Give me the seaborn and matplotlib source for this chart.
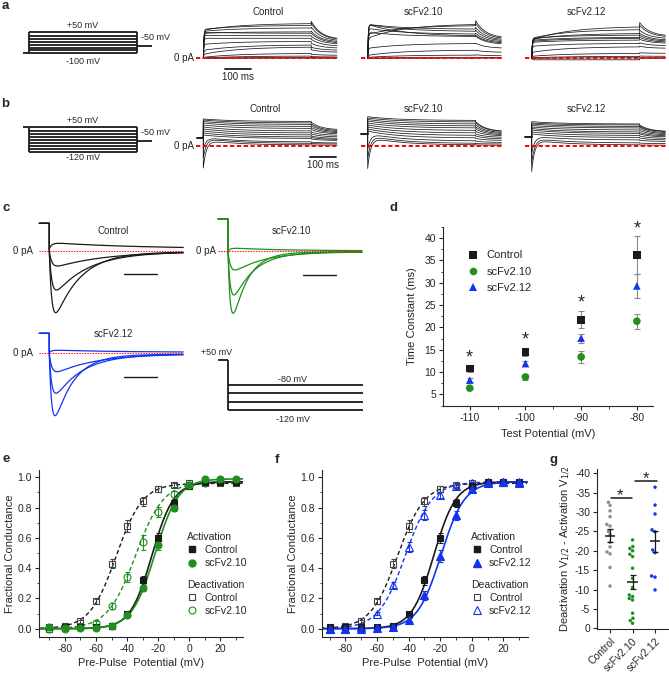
import numpy as np
import pandas as pd
import matplotlib
matplotlib.use("Agg")
import matplotlib.pyplot as plt
from matplotlib.lines import Line2D
from matplotlib.ticker import MultipleLocator
import seaborn as sns

# ==============================================================================
# DATA
# ==============================================================================
GROUPS = ["Control", "scFv2.10", "scFv2.12"]

# --- a: activation families, current above 0 pA (trace units) -----------------
A_CTRL_EARLY = [28, 29, 27, 25, 26, 23, 20, 14, 8, 4, 1, 0.3, 0, 0]
A_CTRL_END = [35, 33, 30.5, 26.5, 25, 22.5, 20, 17, 13.5, 11.5, 5, 2.3, 0.8, 0.2]
A_CTRL_TAIL = [37, 35, 31, 27, 25, 22, 19, 15, 11, 8.5, 4, 1.7, 0.6, 0.2]
A_CTRL_TAIL_END = [18.5, 18, 17, 16, 15, 14, 12, 10, 8, 6, 3, 1.3, 0.5, 0.2]

A_S10_EARLY = [20, 24, 34, 34, 34, 30, 26, 10, 3, 1, 0, 0]
A_S10_END = [34.5, 33, 29, 26.7, 22, 24, 21.7, 15, 8.3, 3.3, 1, 0.2]
A_S10_TAIL = [37.7, 35, 31, 28, 23, 25, 22, 15, 8, 3.5, 1, 0.2]
A_S10_TAIL_END = [20, 19, 18, 17, 15, 16, 14, 10, 6, 2.5, 0.8, 0.2]

A_S12_EARLY = [18, 20, 19, 20, 18, 17, 16, 12, 6, 2, 0.5, 0, -1.5]
A_S12_END = [32, 29, 25, 23.3, 21, 20, 18.3, 15, 11.7, 5, 2, 0.5, -1.5]
A_S12_TAIL = [35.7, 33, 28, 25, 23, 21, 19, 15.5, 12, 5.5, 2.2, 0.5, 0]
A_S12_TAIL_END = [22, 21, 19.5, 18, 17, 16, 15, 12.5, 10, 5, 2, 0.5, 0]

# --- b: families from +50 mV prepulse ----------------------------------------
B_CTRL_HOLD = 8.3
B_CTRL_START = [27, 26, 24.5, 23, 21, 19, 17, 15, 13, 11, 9, 8, 6]
B_CTRL_END = [24.5, 23, 21.5, 19.5, 17.5, 15, 13, 11, 9, 7.5, 4, 2.5, 1]
B_CTRL_DIP = [0, 0, 0, 0, 0, 0, 0, 0, 0, 0, -12, -20, -28]
B_CTRL_TAIL = [23.7, 22, 20.5, 18.5, 16.5, 14, 12, 10, 8.5, 7, 3.8, 2.4, 1]
B_CTRL_TAIL_END = [16, 15, 14, 13, 12, 10.5, 9, 7.5, 6.5, 5.5, 3, 2, 0.8]

B_S10_HOLD = 12
B_S10_START = [29.3, 28, 26.5, 25, 23, 21, 19, 17, 15, 13, 11, 9]
B_S10_END = [25.5, 24, 22, 20, 18, 15.5, 13, 10.5, 8, 5, 2.5, 1]
B_S10_DIP = [0, 0, 0, 0, 0, 0, 0, 0, 0, -16, -24, -31.5]
B_S10_TAIL = [24.3, 23, 21, 19, 17, 14.5, 12, 10, 7.5, 4.8, 2.4, 1]
B_S10_TAIL_END = [14.3, 14, 13, 12, 11, 10, 8.5, 7, 5.5, 3.5, 2, 0.8]

B_S12_HOLD = 8.7
B_S12_START = [24.3, 23, 22, 20.5, 19, 17.5, 16, 14, 12, 10, 8, 6.5]
B_S12_END = [22, 21, 19.5, 18, 16, 14, 12.5, 10.5, 8.5, 6, 3, 1]
B_S12_DIP = [0, 0, 0, 0, 0, 0, 0, 0, 0, -17, -25, -32]
B_S12_TAIL = [21, 20, 19, 17.5, 15.5, 13.5, 12, 10, 8, 5.8, 2.9, 1]
B_S12_TAIL_END = [14.3, 14, 13, 12, 11, 10, 9, 7.5, 6, 4.5, 2.4, 0.8]

# --- voltage protocols (mV) --------------------------------------------------
PROTO_A_LEVELS = [-100, -80, -60, -40, -20, 0, 20, 50]
PROTO_B_LEVELS = [-120, -100, -80, -60, -40, -20, 0, 20, 50]
PROTO_C_LEVELS = [-80, -93.3, -106.7, -120]
PROTO_C_PREPULSE_DRAWN = -40   # +50 mV prepulse, drawn compressed in the schematic

# --- c: deactivating tail currents -------------------------------------------
C_CTRL_HOLD = 27.4
C_CTRL_PEAK = [7.4, -15.3, -39.3, -62.0]
C_CTRL_SS = [2.0, -0.8, -1.0, -1.2]
C_S10_HOLD = 32.3
C_S10_PEAK = [3.0, -18.7, -43.7, -62.0]
C_S10_SS = [0.5, -0.5, -0.6, -0.7]
C_S12_HOLD = 20.0
C_S12_PEAK = [3.0, -18.4, -40.0, -62.4]
C_S12_SS = [1.0, -0.5, -0.8, -1.0]

# --- d: deactivation time constants -----------------------------------------
D_POT = [-110, -100, -90, -80]
D_CTRL = [10.8, 14.5, 21.7, 36.2]
D_CTRL_ERR = [0.7, 1.0, 1.9, 4.2]
D_S10 = [6.4, 8.9, 13.4, 21.4]
D_S10_ERR = [0.3, 0.6, 1.4, 1.7]
D_S12 = [8.2, 11.9, 17.6, 29.3]
D_S12_ERR = [0.4, 0.5, 1.0, 2.6]
D_STAR_Y = [14.5, 18.5, 26.8, 43.4]

# --- e / f: conductance-voltage ------------------------------------------------
GV_POT = [-90, -80, -70, -60, -50, -40, -30, -20, -10, 0, 10, 20, 30]
CTRL_ACT = [0.01, 0.01, 0.01, 0.01, 0.02, 0.10, 0.32, 0.60, 0.83, 0.94, 0.97, 0.97, 0.97]
CTRL_ACT_ERR = [0.005, 0.005, 0.005, 0.005, 0.005, 0.01, 0.03, 0.035, 0.025, 0.015, 0.01, 0.01, 0.01]
CTRL_DEACT = [0.0, 0.02, 0.05, 0.18, 0.43, 0.68, 0.84, 0.92, 0.95, 0.96, 0.96, 0.96, 0.96]
CTRL_DEACT_ERR = [0.005, 0.005, 0.01, 0.015, 0.03, 0.04, 0.03, 0.02, 0.015, 0.01, 0.01, 0.01, 0.01]
S10_ACT = [0.01, 0.005, 0.005, 0.005, 0.02, 0.09, 0.27, 0.55, 0.80, 0.95, 0.99, 0.99, 0.99]
S10_ACT_ERR = [0.005, 0.005, 0.005, 0.005, 0.005, 0.01, 0.02, 0.03, 0.02, 0.01, 0.01, 0.01, 0.01]
S10_DEACT = [0.0, 0.0, 0.01, 0.04, 0.15, 0.34, 0.57, 0.77, 0.89, 0.95, 0.96, 0.97, 0.97]
S10_DEACT_ERR = [0.005, 0.005, 0.005, 0.01, 0.02, 0.035, 0.05, 0.035, 0.02, 0.01, 0.01, 0.01, 0.01]
S12_ACT = [0.0, 0.0, 0.0, 0.005, 0.01, 0.06, 0.22, 0.48, 0.75, 0.92, 0.96, 0.97, 0.97]
S12_ACT_ERR = [0.005, 0.005, 0.005, 0.005, 0.005, 0.01, 0.03, 0.04, 0.03, 0.015, 0.01, 0.01, 0.01]
S12_DEACT = [0.0, 0.0, 0.01, 0.10, 0.29, 0.54, 0.75, 0.88, 0.94, 0.96, 0.97, 0.97, 0.96]
S12_DEACT_ERR = [0.005, 0.005, 0.005, 0.01, 0.02, 0.035, 0.035, 0.02, 0.015, 0.01, 0.01, 0.01, 0.01]

# Boltzmann fit parameters (V1/2, slope, max)
FIT_CTRL_ACT = (-24.0, 7.0, 0.97)
FIT_CTRL_DEACT = (-47.0, 8.5, 0.96)
FIT_S10_ACT = (-22.0, 7.5, 0.99)
FIT_S10_DEACT = (-34.5, 9.0, 0.97)
FIT_S12_ACT = (-19.5, 7.5, 0.97)
FIT_S12_DEACT = (-42.0, 8.5, 0.97)

# --- g: deactivation V1/2 - activation V1/2 per cell ---------------------------
G_CTRL = [-32.5, -31.7, -30.3, -28.8, -26.8, -26.4, -25.0, -24.2, -22.2, -21.0,
          -19.7, -19.2, -15.7, -10.9]
G_S10 = [-22.8, -21.1, -20.6, -20.0, -19.1, -18.5, -15.5, -12.9, -10.5, -8.6,
         -8.2, -7.7, -7.3, -3.9, -2.6, -2.0, -1.3]
G_S12 = [-36.4, -31.8, -29.5, -25.4, -24.9, -20.2, -19.5, -13.5, -13.2, -9.9]

# ==============================================================================
# STYLE / LAYOUT HELPERS
# ==============================================================================
GREEN = "#1f8f1f"
BLUE = "#1234f0"
GREY = "#8e8e8e"
RED = "#ff0000"
PALETTE = {"Control": "k", "scFv2.10": GREEN, "scFv2.12": BLUE}

sns.set_theme(style="ticks", rc={
    "axes.linewidth": 0.8,
    "xtick.major.width": 0.8, "ytick.major.width": 0.8,
    "xtick.minor.width": 0.6, "ytick.minor.width": 0.6,
    "xtick.major.size": 3, "ytick.major.size": 3,
    "xtick.minor.size": 1.8, "ytick.minor.size": 1.8,
    "xtick.major.pad": 2, "ytick.major.pad": 2,
})
plt.rcParams["font.family"] = ["Liberation Sans", "DejaVu Sans"]
plt.rcParams["axes.unicode_minus"] = False

W, H = 669, 676
fig = plt.figure(figsize=(W / 100, H / 100), dpi=100)


def px_axes(x0, y0, x1, y1):
    return fig.add_axes([x0 / W, 1 - y1 / H, (x1 - x0) / W, (y1 - y0) / H])


def ftext(x, y, s, **kw):
    kw.setdefault("ha", "center")
    kw.setdefault("va", "center")
    fig.text(x / W, 1 - y / H, s, **kw)


def fit_to_px(ax, box, ox, oy, sx, sy):
    """data = (px - origin) * scale, y positive upwards"""
    x0, y0, x1, y1 = box
    ax.set_xlim((x0 - ox) * sx, (x1 - ox) * sx)
    ax.set_ylim((oy - y1) * sy, (oy - y0) * sy)
    ax.axis("off")


def star(ax, x, y, fs=13):
    ax.annotate("*", (x, y), xytext=(0, -0.58 * fs), textcoords="offset points",
                ha="center", va="baseline", fontsize=fs, annotation_clip=False)


def boltz(v, v_half, k, amp):
    return amp / (1 + np.exp((v_half - v) / k))


# ==============================================================================
# a / b : CURRENT FAMILIES
# ==============================================================================
MS_PER_PX = 100 / 25.7
STEP_MS, TAIL_MS = 420, 100
T_STEP = np.linspace(0, STEP_MS, 400)
T_TAIL = np.linspace(STEP_MS, STEP_MS + TAIL_MS, 100)
TRACE_KW = dict(color="k", lw=0.55)
RED_DASH = dict(color=RED, lw=1.4, ls=(0, (2.2, 1.3)), zorder=5)


def tail_part(tail, tail_end):
    return tail_end + (tail - tail_end) * np.exp(-(T_TAIL - STEP_MS) / 40.0)


def draw_family_a(ax, early, end, tail, tail_end):
    for e0, e1, tp, te in zip(early, end, tail, tail_end):
        i_step = (1 - np.exp(-T_STEP / 2.0)) * (e1 + (e0 - e1) * np.exp(-T_STEP / 140.0))
        ax.plot(np.r_[T_STEP, T_TAIL], np.r_[i_step, tail_part(tp, te)], **TRACE_KW)
    ax.plot([-28, 522], [0, 0], **RED_DASH)


def draw_family_b(ax, hold, start, end, dip, tail, tail_end):
    ax.plot([-25, 0], [hold, hold], color="k", lw=1.4)
    for s0, e1, dp, tp, te in zip(start, end, dip, tail, tail_end):
        i_step = e1 + (s0 - e1) * np.exp(-T_STEP / 120.0) + dp * np.exp(-T_STEP / 12.0)
        ax.plot(np.r_[0, T_STEP, T_TAIL], np.r_[hold, i_step, tail_part(tp, te)], **TRACE_KW)
    ax.plot([-28, 522], [0, 0], **RED_DASH)


ORIGINS_X = [203.3, 367.7, 531.7]
A_SETS = [(A_CTRL_EARLY, A_CTRL_END, A_CTRL_TAIL, A_CTRL_TAIL_END),
          (A_S10_EARLY, A_S10_END, A_S10_TAIL, A_S10_TAIL_END),
          (A_S12_EARLY, A_S12_END, A_S12_TAIL, A_S12_TAIL_END)]
B_SETS = [(B_CTRL_HOLD, B_CTRL_START, B_CTRL_END, B_CTRL_DIP, B_CTRL_TAIL, B_CTRL_TAIL_END),
          (B_S10_HOLD, B_S10_START, B_S10_END, B_S10_DIP, B_S10_TAIL, B_S10_TAIL_END),
          (B_S12_HOLD, B_S12_START, B_S12_END, B_S12_DIP, B_S12_TAIL, B_S12_TAIL_END)]
TITLE_X = [268, 423.3, 586.7]

a_axes, b_axes = [], []
for ox, aset, bset, tx, name in zip(ORIGINS_X, A_SETS, B_SETS, TITLE_X, GROUPS):
    ax = px_axes(ox - 14, 15, ox + 137, 75)
    fit_to_px(ax, (ox - 14, 15, ox + 137, 75), ox, 58.3, MS_PER_PX, 1)
    draw_family_a(ax, *aset)
    a_axes.append(ax)
    ftext(tx, 11.7, name, fontsize=7)

    ax = px_axes(ox - 14, 100, ox + 137, 178)
    fit_to_px(ax, (ox - 14, 100, ox + 137, 178), ox, 146, MS_PER_PX, 1)
    draw_family_b(ax, *bset)
    b_axes.append(ax)
    ftext(tx - 3 if name == "Control" else tx, 109, name, fontsize=7)

# scale bars (100 ms)
a_axes[0].plot([84, 184], [-11, -11], color="k", lw=1.3)
b_axes[0].plot([415, 515], [-10.7, -10.7], color="k", lw=1.3)
ftext(237.5, 77.5, "100 ms", fontsize=7)
ftext(323, 165.5, "100 ms", fontsize=7)
ftext(193.5, 58, "0 pA", fontsize=7, ha="right")
ftext(193.5, 146, "0 pA", fontsize=7, ha="right")


# voltage protocols a / b
def draw_protocol(ax, levels, hold_left, hold_right, lead_ms=24, tail_ms=60):
    kw = dict(color="k", lw=1.3, solid_capstyle="butt")
    ax.plot([-lead_ms, 0], [hold_left, hold_left], **kw)
    ax.plot([0, 0], [min(levels), max(levels)], **kw)
    for v in levels:
        ax.plot([0, STEP_MS], [v, v], **kw)
    ax.plot([STEP_MS, STEP_MS], [min(levels), max(levels)], **kw)
    ax.plot([STEP_MS, STEP_MS + tail_ms], [hold_right, hold_right], **kw)


ax = px_axes(15, 22, 165, 60)
fit_to_px(ax, (15, 22, 165, 60), 29, 38.9, MS_PER_PX, 6.94)
draw_protocol(ax, PROTO_A_LEVELS, -100, -50)
ftext(83, 25, "+50 mV", fontsize=6.5)
ftext(141, 37.7, "-50 mV", fontsize=6.5, ha="left")
ftext(83, 61.5, "-100 mV", fontsize=6.5)

ax = px_axes(15, 118, 165, 158)
fit_to_px(ax, (15, 118, 165, 158), 29, 134.05, MS_PER_PX, 6.8)
draw_protocol(ax, PROTO_B_LEVELS, 50, -50)
ftext(83, 120.7, "+50 mV", fontsize=6.5)
ftext(141, 132.3, "-50 mV", fontsize=6.5, ha="left")
ftext(83, 157.8, "-120 mV", fontsize=6.5)

# ==============================================================================
# c : TAIL CURRENTS
# ==============================================================================
C_MS_PER_PX = 0.43
C_T = np.linspace(0, 57.6, 400)
RED_DOT = dict(color=RED, lw=0.8, ls=(0, (1.2, 1.2)), zorder=5)


def draw_tails(ax, hold, peaks, ss, taus, color):
    for pk, s, tau in zip(peaks, ss, taus):
        g = np.exp(-C_T / tau) * (1 - np.exp(-C_T / 1.2))
        g = g / g.max()
        ax.plot(np.r_[-4.3, 0, C_T], np.r_[hold, hold, s + (pk - s) * g], color=color, lw=0.9)
    ax.plot([-4.4, 57.6], [0, 0], **RED_DOT)
    ax.plot([32.3, 46.3], [-23.6, -23.6], color="k", lw=1.0)


C_SETS = [((30, 212, 190, 320), 49.3, 250.7, C_CTRL_HOLD, C_CTRL_PEAK, C_CTRL_SS, D_CTRL[::-1], "k"),
          ((210, 212, 368, 320), 228, 251.3, C_S10_HOLD, C_S10_PEAK, C_S10_SS, D_S10[::-1], GREEN),
          ((30, 318, 190, 422), 49.3, 353.3, C_S12_HOLD, C_S12_PEAK, C_S12_SS, D_S12[::-1], BLUE)]
for box, ox, oy, hold, peaks, ss, taus, col in C_SETS:
    ax = px_axes(*box)
    fit_to_px(ax, box, ox, oy, C_MS_PER_PX, 1)
    draw_tails(ax, hold, peaks, ss, taus, col)

ftext(113, 231, "Control", fontsize=7)
ftext(291.7, 231.5, "scFv2.10", fontsize=7)
ftext(113, 334, "scFv2.12", fontsize=7)
ftext(33, 250.7, "0 pA", fontsize=7, ha="right")
ftext(216, 251.3, "0 pA", fontsize=7, ha="right")
ftext(33, 353.3, "0 pA", fontsize=7, ha="right")

# c protocol
box = (210, 352, 368, 414)
ax = px_axes(*box)
fit_to_px(ax, box, 228, 335, C_MS_PER_PX, 1.6)
pkw = dict(color="k", lw=1.3, solid_capstyle="butt")
ax.plot([-4.3, 0], [PROTO_C_PREPULSE_DRAWN] * 2, **pkw)
ax.plot([0, 0], [PROTO_C_PREPULSE_DRAWN, min(PROTO_C_LEVELS)], **pkw)
for v in PROTO_C_LEVELS:
    ax.plot([0, 57.9], [v, v], **pkw)
ftext(217, 353, "+50 mV", fontsize=6.5)
ftext(293, 379, "-80 mV", fontsize=6.5)
ftext(293, 419.5, "-120 mV", fontsize=6.5)

# ==============================================================================
# d : TIME CONSTANTS
# ==============================================================================
ax_d = px_axes(443, 227, 653, 406)
df_d = pd.DataFrame({
    "potential": D_POT * 3,
    "tau": D_CTRL + D_S10 + D_S12,
    "err": D_CTRL_ERR + D_S10_ERR + D_S12_ERR,
    "group": [g for g in GROUPS for _ in D_POT],
})
ax_d.errorbar(df_d["potential"], df_d["tau"], yerr=df_d["err"], fmt="none",
              ecolor="#8a8a8a", elinewidth=0.8, capsize=2.2, capthick=0.8, zorder=2)
sns.scatterplot(data=df_d, x="potential", y="tau", hue="group", style="group",
                markers={"Control": "s", "scFv2.10": "o", "scFv2.12": "^"},
                palette=PALETTE, s=30, linewidth=0, ax=ax_d, zorder=3)
sns.move_legend(ax_d, "upper left", bbox_to_anchor=(0.085, 0.9), frameon=False,
                title=None, fontsize=8, handletextpad=0.6, labelspacing=0.55,
                borderpad=0, handlelength=1.2)
ax_d.set_xlim(-114.8, -77.1)
ax_d.set_ylim(2.4, 42.5)
ax_d.xaxis.set_major_locator(MultipleLocator(10))
ax_d.xaxis.set_minor_locator(MultipleLocator(5))
ax_d.yaxis.set_major_locator(MultipleLocator(5))
ax_d.yaxis.set_minor_locator(MultipleLocator(2.5))
ax_d.tick_params(labelsize=7.5)
ax_d.set_xlabel("Test Potential (mV)", fontsize=8)
ax_d.set_ylabel("Time Constant (ms)", fontsize=8)
ax_d.xaxis.set_label_coords(0.5, -0.13)
ax_d.yaxis.set_label_coords(-0.125, 0.5)
sns.despine(ax=ax_d)
for x, y in zip(D_POT, D_STAR_Y):
    star(ax_d, x, y)

# ==============================================================================
# e / f : G-V CURVES
# ==============================================================================
V_FIT = np.linspace(-96, 35, 300)


def gv_panel(box, xlim, drug, drug_act, drug_act_err, drug_deact, drug_deact_err,
             fit_act, fit_deact, color, marker):
    ax = px_axes(*box)
    ax.plot(V_FIT, boltz(V_FIT, *FIT_CTRL_DEACT), color="k", lw=1.0, ls=(0, (3, 2)), zorder=1)
    ax.plot(V_FIT, boltz(V_FIT, *fit_deact), color=color, lw=1.0, ls=(0, (3, 2)), zorder=1)
    ax.plot(V_FIT, boltz(V_FIT, *FIT_CTRL_ACT), color="k", lw=1.2, zorder=1)
    ax.plot(V_FIT, boltz(V_FIT, *fit_act), color=color, lw=1.2, zorder=1)
    ms = 5.5 if marker == "^" else 5
    series = [
        (CTRL_DEACT, CTRL_DEACT_ERR, "s", "#444444", "none", 4.3),
        (drug_deact, drug_deact_err, marker, color, "none", ms),
        (CTRL_ACT, CTRL_ACT_ERR, "s", "k", "k", 4.5),
        (drug_act, drug_act_err, marker, color, color, ms),
    ]
    for vals, err, mk, ec, fc, size in series:
        ax.errorbar(GV_POT, vals, yerr=err, fmt=mk, ms=size, mec=ec, mfc=fc, mew=0.8,
                    ecolor=ec, elinewidth=0.7, capsize=1.8, capthick=0.7, zorder=3)
    ax.set_xlim(*xlim)
    ax.set_ylim(-0.055, 1.048)
    ax.xaxis.set_major_locator(MultipleLocator(20))
    ax.xaxis.set_minor_locator(MultipleLocator(10))
    ax.yaxis.set_major_locator(MultipleLocator(0.2))
    ax.yaxis.set_minor_locator(MultipleLocator(0.1))
    ax.yaxis.set_major_formatter(matplotlib.ticker.FormatStrFormatter("%.1f"))
    ax.tick_params(labelsize=7.5)
    ax.set_xlabel("Pre-Pulse  Potential (mV)", fontsize=8)
    ax.set_ylabel("Fractional Conductance", fontsize=8)
    ax.xaxis.set_label_coords(0.5, -0.128)
    ax.yaxis.set_label_coords(-0.118, 0.5)
    sns.despine(ax=ax)

    leg_kw = dict(loc="upper left", frameon=False, fontsize=7.5, title_fontsize=7.5,
                  alignment="left", handlelength=1.0, handletextpad=0.7,
                  borderpad=0, labelspacing=0.3)
    h_act = [Line2D([], [], ls="none", marker="s", color="k", ms=4.5),
             Line2D([], [], ls="none", marker=marker, color=color, ms=ms)]
    h_deact = [Line2D([], [], ls="none", marker="s", mec="#444444", mfc="none", ms=4.3, mew=0.8),
               Line2D([], [], ls="none", marker=marker, mec=color, mfc="none", ms=ms, mew=0.8)]
    leg1 = ax.legend(h_act, ["Control", drug], title="Activation",
                     bbox_to_anchor=(0.7, 0.66), **leg_kw)
    ax.add_artist(leg1)
    ax.legend(h_deact, ["Control", drug], title="Deactivation",
              bbox_to_anchor=(0.7, 0.375), **leg_kw)
    return ax


gv_panel((39, 470, 243, 637), (-96.7, 34.6), "scFv2.10", S10_ACT, S10_ACT_ERR,
         S10_DEACT, S10_DEACT_ERR, FIT_S10_ACT, FIT_S10_DEACT, GREEN, "o")
gv_panel((322, 470, 528, 637), (-94.8, 35.6), "scFv2.12", S12_ACT, S12_ACT_ERR,
         S12_DEACT, S12_DEACT_ERR, FIT_S12_ACT, FIT_S12_DEACT, BLUE, "^")

# ==============================================================================
# g : V1/2 DIFFERENCE
# ==============================================================================
ax_g = px_axes(597, 469, 669, 629)
df_g = pd.DataFrame({
    "group": ["Control"] * len(G_CTRL) + ["scFv2.10"] * len(G_S10) + ["scFv2.12"] * len(G_S12),
    "value": G_CTRL + G_S10 + G_S12,
})
sns.swarmplot(data=df_g, x="group", y="value", hue="group", order=GROUPS,
              palette={"Control": GREY, "scFv2.10": GREEN, "scFv2.12": BLUE},
              size=2.5, linewidth=0, legend=False, ax=ax_g, zorder=2)
stats = df_g.groupby("group", sort=False)["value"].agg(["mean", "sem"]).reindex(GROUPS)
xpos = np.arange(len(GROUPS))
ax_g.errorbar(xpos, stats["mean"], yerr=stats["sem"], fmt="none", ecolor="k",
              elinewidth=0.9, capsize=2.5, capthick=0.9, zorder=4)
ax_g.hlines(stats["mean"], xpos - 0.24, xpos + 0.24, color="k", lw=1.1, zorder=4)
ax_g.set_xlim(-0.58, 2.62)
ax_g.set_ylim(0.18, -41.1)
ax_g.yaxis.set_major_locator(MultipleLocator(5))
ax_g.tick_params(labelsize=7.5)
ax_g.set_xticks(xpos)
ax_g.set_xticklabels(GROUPS, rotation=45, ha="right", rotation_mode="anchor")
ax_g.set_xlabel("")
ax_g.set_ylabel("Deactivation V$_{1/2}$ - Activation V$_{1/2}$", fontsize=8)
ax_g.yaxis.set_label_coords(-0.33, 0.5)
sns.despine(ax=ax_g)
ax_g.plot([0.03, 0.99], [-33.7, -33.7], color="k", lw=1.1, clip_on=False)
ax_g.plot([1.11, 2.08], [-38.1, -38.1], color="k", lw=1.1, clip_on=False)
star(ax_g, 0.44, -35.6, fs=12)
star(ax_g, 1.59, -40.0, fs=12)

# ==============================================================================
# PANEL LETTERS
# ==============================================================================
for x, y, s in [(5, 6, "a"), (5, 104, "b"), (6, 208, "c"), (393, 208, "d"),
                (6, 459, "e"), (277, 460, "f"), (554, 460, "g")]:
    ftext(x, y, s, fontsize=9.5, fontweight="bold")

fig.savefig("out.png", dpi=100)
